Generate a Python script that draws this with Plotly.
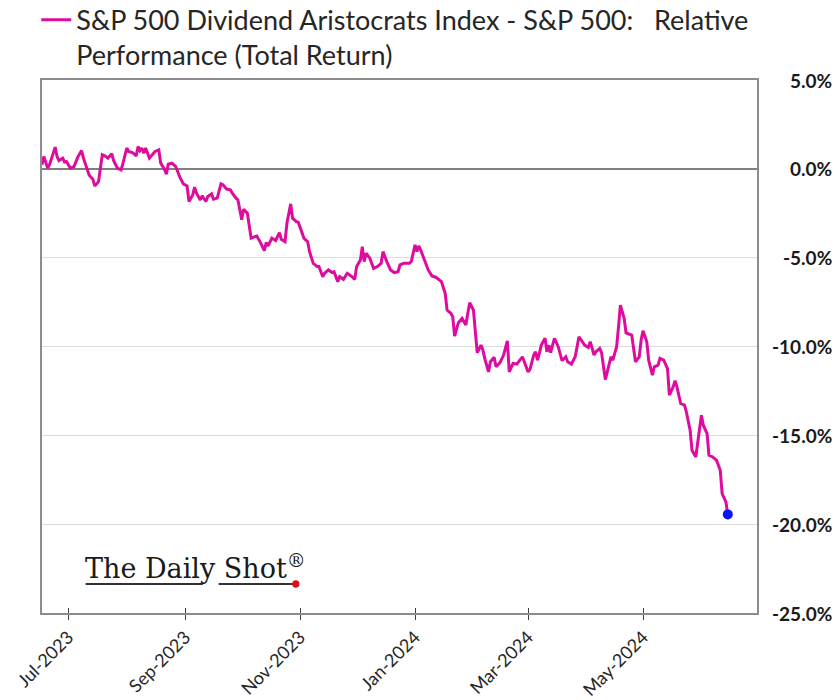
import plotly.graph_objects as go

dates = [
    "2023-06-17","2023-06-18","2023-06-20","2023-06-21","2023-06-24","2023-06-25","2023-06-26","2023-06-28","2023-06-29","2023-06-30",
    "2023-07-02","2023-07-04","2023-07-06","2023-07-08","2023-07-09","2023-07-11","2023-07-12","2023-07-14","2023-07-15","2023-07-17",
    "2023-07-18","2023-07-19","2023-07-21","2023-07-22","2023-07-24","2023-07-25","2023-07-27","2023-07-29","2023-07-30","2023-08-01",
    "2023-08-02","2023-08-04","2023-08-06","2023-08-07","2023-08-08","2023-08-09","2023-08-10","2023-08-11","2023-08-13","2023-08-15",
    "2023-08-16","2023-08-18","2023-08-19","2023-08-21","2023-08-22","2023-08-23","2023-08-25","2023-08-27","2023-08-29","2023-08-31",
    "2023-09-02","2023-09-03","2023-09-05","2023-09-06","2023-09-07","2023-09-09","2023-09-10","2023-09-12","2023-09-13","2023-09-15",
    "2023-09-16","2023-09-18","2023-09-20","2023-09-21","2023-09-23","2023-09-25","2023-09-26","2023-09-28","2023-09-29","2023-10-01",
    "2023-10-02","2023-10-04","2023-10-05","2023-10-06","2023-10-08","2023-10-09","2023-10-11","2023-10-13","2023-10-14","2023-10-15",
    "2023-10-17","2023-10-19","2023-10-21","2023-10-22","2023-10-24","2023-10-25","2023-10-27","2023-10-28","2023-10-30","2023-10-31",
    "2023-11-02","2023-11-03","2023-11-05","2023-11-06","2023-11-08","2023-11-10","2023-11-11","2023-11-13","2023-11-14","2023-11-16",
    "2023-11-18","2023-11-19","2023-11-21","2023-11-22","2023-11-24","2023-11-26","2023-11-28","2023-11-30","2023-12-01","2023-12-03",
    "2023-12-04","2023-12-05","2023-12-06","2023-12-08","2023-12-10","2023-12-12","2023-12-14","2023-12-15","2023-12-17","2023-12-19",
    "2023-12-21","2023-12-23","2023-12-24","2023-12-26","2023-12-29","2023-12-30","2024-01-01","2024-01-02","2024-01-03","2024-01-04",
    "2024-01-06","2024-01-08","2024-01-10","2024-01-12","2024-01-14","2024-01-15","2024-01-17","2024-01-18","2024-01-20","2024-01-21",
    "2024-01-22","2024-01-24","2024-01-26","2024-01-28","2024-01-29","2024-01-30","2024-02-01","2024-02-02","2024-02-03","2024-02-05",
    "2024-02-06","2024-02-07","2024-02-09","2024-02-10","2024-02-12","2024-02-13","2024-02-15","2024-02-17","2024-02-19","2024-02-20",
    "2024-02-22","2024-02-24","2024-02-25","2024-02-27","2024-02-28","2024-03-01","2024-03-02","2024-03-04","2024-03-05","2024-03-06",
    "2024-03-07","2024-03-08","2024-03-10","2024-03-11","2024-03-12","2024-03-13","2024-03-14","2024-03-15","2024-03-17","2024-03-18",
    "2024-03-19","2024-03-21","2024-03-22","2024-03-24","2024-03-26","2024-03-28","2024-03-30","2024-03-31","2024-04-02","2024-04-03",
    "2024-04-05","2024-04-06","2024-04-08","2024-04-09","2024-04-11","2024-04-12","2024-04-14","2024-04-15","2024-04-17","2024-04-18",
    "2024-04-19","2024-04-21","2024-04-22","2024-04-25","2024-04-26","2024-04-27","2024-04-29","2024-04-30","2024-05-01","2024-05-03",
    "2024-05-04","2024-05-06","2024-05-07","2024-05-09","2024-05-10","2024-05-12","2024-05-14","2024-05-15","2024-05-17","2024-05-18",
    "2024-05-19","2024-05-21","2024-05-23","2024-05-24","2024-05-26","2024-05-27","2024-05-29","2024-05-30","2024-05-31","2024-06-01",
    "2024-06-02","2024-06-04","2024-06-05","2024-06-07","2024-06-09","2024-06-11","2024-06-12","2024-06-14","2024-06-15",
]

relative_perf = [
    0.23, 0.69, 0.04, 0.23, 1.22, 0.69, 0.47, 0.60, 0.38, 0.41,
    0.04, 0.13, 0.66, 1.03, 0.60, -0.06, -0.34, -0.58, -0.96, -0.72,
    0.13, 0.79, 0.69, 0.60, 0.85, 0.47, 0.04, -0.06, 0.32, 1.17,
    0.98, 0.92, 0.73, 1.26, 1.03, 1.17, 0.88, 1.17, 0.60, 0.85,
    0.98, 1.07, 0.32, -0.02, -0.30, 0.26, 0.32, 0.13, -0.43, -0.85,
    -0.96, -1.84, -1.47, -1.03, -1.37, -1.75, -1.52, -1.84, -1.56, -1.41,
    -1.71, -1.65, -0.85, -0.90, -1.14, -1.18, -1.37, -1.65, -1.75, -2.87,
    -2.27, -2.50, -3.25, -3.90, -3.82, -3.78, -4.15, -4.60, -4.15, -4.34,
    -3.90, -4.04, -3.59, -3.96, -4.10, -3.06, -1.97, -2.78, -2.97, -3.00,
    -3.59, -3.90, -4.10, -4.66, -5.32, -5.50, -5.50, -6.07, -5.88, -5.69,
    -5.84, -5.79, -6.35, -6.07, -6.22, -5.88, -6.03, -6.22, -5.50, -5.13,
    -4.38, -5.22, -4.75, -5.03, -5.60, -5.50, -5.32, -4.66, -5.22, -5.69,
    -5.84, -5.79, -5.41, -5.32, -5.32, -5.22, -4.28, -4.66, -4.34, -4.57,
    -5.13, -5.69, -6.03, -6.10, -6.26, -6.35, -7.01, -7.95, -8.13, -8.32,
    -9.41, -8.66, -8.42, -8.79, -8.13, -7.54, -7.95, -9.26, -10.35, -9.92,
    -10.20, -10.67, -11.43, -10.86, -10.61, -11.14, -10.92, -10.48, -9.68, -11.43,
    -10.95, -10.99, -10.86, -10.58, -10.86, -11.43, -11.29, -10.48, -10.30, -10.77,
    -10.39, -9.92, -9.54, -10.30, -9.92, -10.35, -9.92, -9.54, -10.01, -10.35,
    -10.80, -10.58, -10.86, -10.99, -10.58, -9.45, -9.79, -9.92, -10.05, -9.73,
    -10.48, -10.30, -10.11, -10.35, -11.86, -11.43, -10.58, -10.77, -10.01, -8.89,
    -7.67, -8.42, -9.23, -9.36, -10.01, -10.86, -10.58, -9.64, -9.11, -9.73,
    -10.77, -11.61, -11.14, -11.05, -10.67, -10.77, -11.24, -12.74, -12.27, -11.93,
    -12.27, -13.21, -13.30, -13.68, -14.71, -15.84, -16.22, -15.46, -14.52, -13.87,
    -14.43, -14.90, -16.12, -16.22, -16.40, -16.97, -18.28, -18.75, -19.45,
]

x_tick_dates = ["2023-07-01", "2023-09-01", "2023-11-01", "2024-01-01", "2024-03-01", "2024-05-01"]
x_tick_labels = ["Jul-2023", "Sep-2023", "Nov-2023", "Jan-2024", "Mar-2024", "May-2024"]
y_tick_values = [5, 0, -5, -10, -15, -20, -25]
y_tick_labels = ["5.0%", "0.0%", "-5.0%", "-10.0%", "-15.0%", "-20.0%", "-25.0%"]
series_name = "S&P 500 Dividend Aristocrats Index - S&P 500:   Relative<br>Performance (Total Return)"

LINE = "#DE0C9E"
FRAME = "#8c8c8c"
FONT = "Lato"

fig = go.Figure()
fig.add_trace(go.Scatter(
    x=dates, y=relative_perf, mode="lines", name=series_name,
    line=dict(color=LINE, width=3), showlegend=True,
))
fig.add_trace(go.Scatter(
    x=[dates[-1]], y=[relative_perf[-1]], mode="markers",
    marker=dict(color="#0a14f0", size=10), showlegend=False,
))
# invisible trace on overlay axis for inside tick marks
fig.add_trace(go.Scatter(
    x=[dates[0]], y=[relative_perf[0]], xaxis="x2", mode="markers",
    marker=dict(opacity=0), showlegend=False, hoverinfo="skip",
))

x_range = ["2023-06-17", "2024-06-30 12:00"]

fig.update_layout(
    width=839, height=700,
    margin=dict(l=42, r=82, t=80, b=87, autoexpand=False),
    paper_bgcolor="white", plot_bgcolor="white",
    font=dict(family=FONT, color="#262626"),
    showlegend=True,
    legend=dict(
        x=-0.008, y=1.158, xanchor="left", yanchor="top",
        font=dict(family=FONT, size=27, color="#262626"),
        bgcolor="rgba(0,0,0,0)", valign="top", itemwidth=30,
        tracegroupgap=0,
    ),
    xaxis=dict(
        type="date", range=x_range,
        tickvals=x_tick_dates, ticktext=x_tick_labels,
        tickangle=-45, tickfont=dict(family=FONT, size=18, color="#262626"),
        ticks="outside", ticklen=5, tickwidth=1, tickcolor="#404040",
        showgrid=False, zeroline=False,
        showline=True, linecolor=FRAME, linewidth=1.5, mirror=True,
    ),
    xaxis2=dict(
        type="date", range=x_range, overlaying="x", anchor="y", side="bottom",
        tickvals=x_tick_dates, showticklabels=False,
        ticks="inside", ticklen=5, tickwidth=1, tickcolor="#404040",
        showgrid=False, zeroline=False, showline=False,
    ),
    yaxis=dict(
        range=[-25, 5], side="right", tickvals=y_tick_values,
        showticklabels=False, ticks="",
        showgrid=True, gridcolor="#dcdcdc", gridwidth=1.2,
        zeroline=True, zerolinecolor="#7f7f7f", zerolinewidth=2,
        showline=True, linecolor=FRAME, linewidth=1.5, mirror=True,
    ),
)

for v, lab in zip(y_tick_values, y_tick_labels):
    fig.add_annotation(
        x=1.1075, xref="paper", y=v, yref="y", text=lab, showarrow=False,
        xanchor="right", yanchor="middle",
        font=dict(family=FONT, size=19, color="#1a1a1a", weight="bold"),
    )

# The Daily Shot logo
fig.add_annotation(
    x=0.057, y=0.050, xref="paper", yref="paper", xanchor="left", yanchor="bottom",
    text="The Daily Shot<sup>®</sup>", showarrow=False,
    font=dict(family="DejaVu Serif", size=27, color="#1a1a1a"),
)
fig.add_shape(type="line", xref="paper", yref="paper", x0=0.061, x1=0.225, y0=0.0544, y1=0.0544,
              line=dict(color="#333333", width=2.2))
fig.add_shape(type="line", xref="paper", yref="paper", x0=0.247, x1=0.352, y0=0.0544, y1=0.0544,
              line=dict(color="#333333", width=2.2))
fig.add_shape(type="circle", xref="paper", yref="paper", x0=0.350, x1=0.360, y0=0.0474, y1=0.0614,
              fillcolor="#e0101a", line=dict(width=0))

fig.write_html("out.html")
